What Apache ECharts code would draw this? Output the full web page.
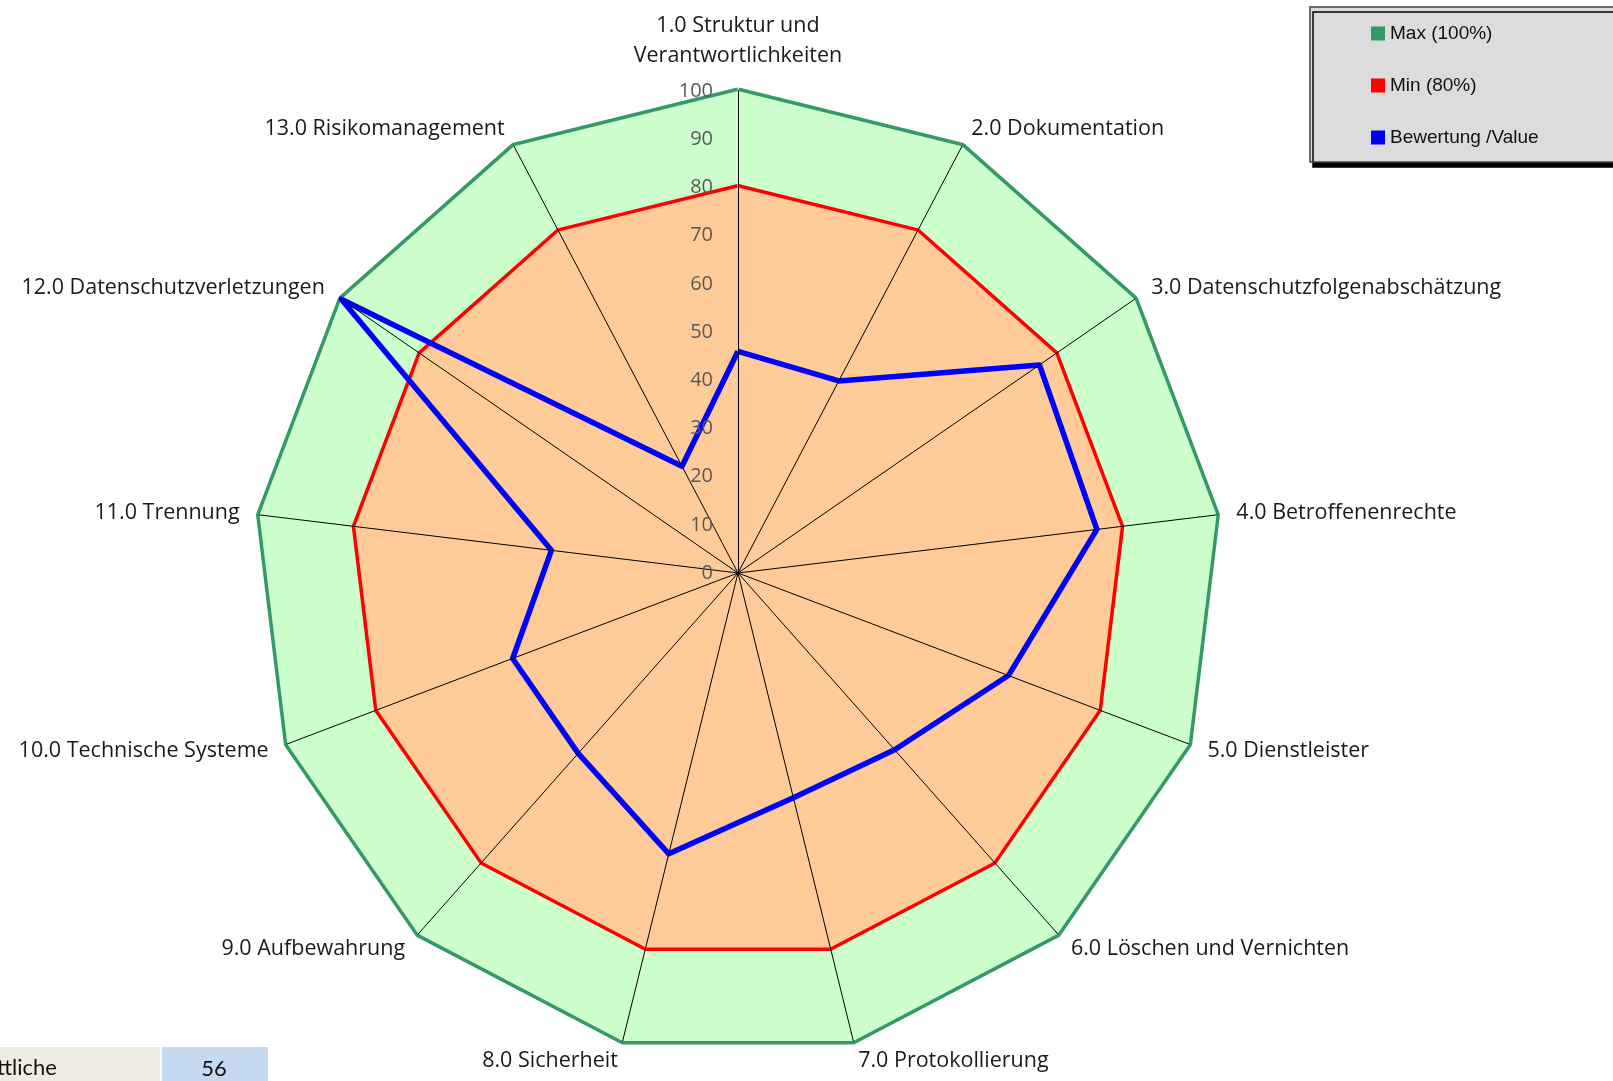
<!DOCTYPE html>
<html>
<head>
<meta charset="utf-8">
<title>Datenschutz Bewertung</title>
<script src="https://cdn.jsdelivr.net/npm/echarts@6/dist/echarts.min.js"></script>
<style>
  html, body { margin: 0; padding: 0; background: #fff; }
  #radar { width: 1613px; height: 1081px; }
</style>
</head>
<body>
<div id="radar"></div>
<script>
// Kategorien im Uhrzeigersinn, beginnend oben
var categories = [
    '1.0 Struktur und\nVerantwortlichkeiten',
    '2.0 Dokumentation',
    '3.0 Datenschutzfolgenabschätzung',
    '4.0 Betroffenenrechte',
    '5.0 Dienstleister',
    '6.0 Löschen und Vernichten',
    '7.0 Protokollierung',
    '8.0 Sicherheit',
    '9.0 Aufbewahrung',
    '10.0 Technische Systeme',
    '11.0 Trennung',
    '12.0 Datenschutzverletzungen',
    '13.0 Risikomanagement'
];
var maxValues = [100, 100, 100, 100, 100, 100, 100, 100, 100, 100, 100, 100, 100];
var minValues = [80, 80, 80, 80, 80, 80, 80, 80, 80, 80, 80, 80, 80];
var bewertung = [46, 45, 76, 75, 60, 49, 48, 60, 50, 50, 39, 100, 25];
var seriesNames = ['Max (100%)', 'Min (80%)', 'Bewertung /Value'];

// echarts legt die Achsen gegen den Uhrzeigersinn an -> Reihenfolge umdrehen (erste bleibt oben)
var order = [0];
for (var i = categories.length - 1; i > 0; i--) order.push(i);
function reorder(arr) { return order.map(function (k) { return arr[k]; }); }

// Mittelwert fuer die Tabellenzelle unten links
var summe = 0;
bewertung.forEach(function (v) { summe += v; });
var mittel = Math.round(summe / bewertung.length);

var myChart = echarts.init(document.getElementById('radar'));

var option = {
    animation: false,
    legend: {
        orient: 'vertical',
        left: 1310,
        top: 7,
        padding: [17, 80, 15, 61],
        itemGap: 33,
        itemWidth: 14,
        itemHeight: 14,
        icon: 'rect',
        backgroundColor: '#dcdcdc',
        borderColor: '#444',
        borderWidth: 1.5,
        shadowColor: '#000',
        shadowBlur: 0,
        shadowOffsetX: 3,
        shadowOffsetY: 5,
        textStyle: {
            fontFamily: 'Liberation Sans',
            fontSize: 19,
            color: '#111'
        },
        data: seriesNames
    },
    radar: {
        center: [738, 573],
        radius: 482,
        startAngle: 90,
        splitNumber: 10,
        shape: 'polygon',
        z: 5,
        nameGap: 20,
        indicator: reorder(categories).map(function (name, idx) {
            var ind = { name: name, min: 0, max: 100 };
            if (idx === 0) ind.axisLabel = { show: true }; // Skala nur an der ersten Achse
            return ind;
        }),
        axisName: {
            color: '#1a1a1a',
            fontFamily: 'Open Sans',
            fontSize: 21.5,
            lineHeight: 30
        },
        axisLine: { lineStyle: { color: '#000', width: 1 } },
        axisTick: { show: false },
        axisLabel: {
            show: false,
            color: '#595959',
            fontFamily: 'Open Sans',
            fontSize: 20,
            margin: 25
        },
        splitLine: { show: false },
        splitArea: { show: false }
    },
    series: [
        {
            name: seriesNames[0],
            type: 'radar',
            z: 2,
            symbol: 'none',
            itemStyle: { color: '#339966' },
            // Flaeche deckt die innere Haelfte der Linie ab
            lineStyle: { color: '#339966', width: 7 },
            areaStyle: { color: '#ccffcc', opacity: 1 },
            data: [{ name: seriesNames[0], value: reorder(maxValues) }]
        },
        {
            name: seriesNames[1],
            type: 'radar',
            z: 2,
            symbol: 'none',
            itemStyle: { color: '#ff0000' },
            lineStyle: { color: '#ff0000', width: 7 },
            areaStyle: { color: '#ffcc99', opacity: 1 },
            data: [{ name: seriesNames[1], value: reorder(minValues) }]
        },
        {
            name: seriesNames[2],
            type: 'radar',
            z: 3,
            symbol: 'none',
            itemStyle: { color: '#0000ff' },
            lineStyle: { color: '#0000ff', width: 5.5 },
            data: [{ name: seriesNames[2], value: reorder(bewertung) }]
        }
    ],
    graphic: [
        { type: 'rect', shape: { x: 0, y: 1047, width: 160, height: 40 }, style: { fill: '#eeece1' } },
        { type: 'rect', shape: { x: 162, y: 1047, width: 106, height: 40 }, style: { fill: '#c5d9f1' } },
        {
            type: 'text', x: -3, y: 1068,
            style: { text: 'ttliche', font: '22px Lato', fill: '#111', verticalAlign: 'middle' }
        },
        {
            type: 'text', x: 214, y: 1069,
            style: { text: String(mittel), font: '22px Lato', fill: '#111', align: 'center', verticalAlign: 'middle' }
        }
    ]
};

myChart.setOption(option);
</script>
</body>
</html>
